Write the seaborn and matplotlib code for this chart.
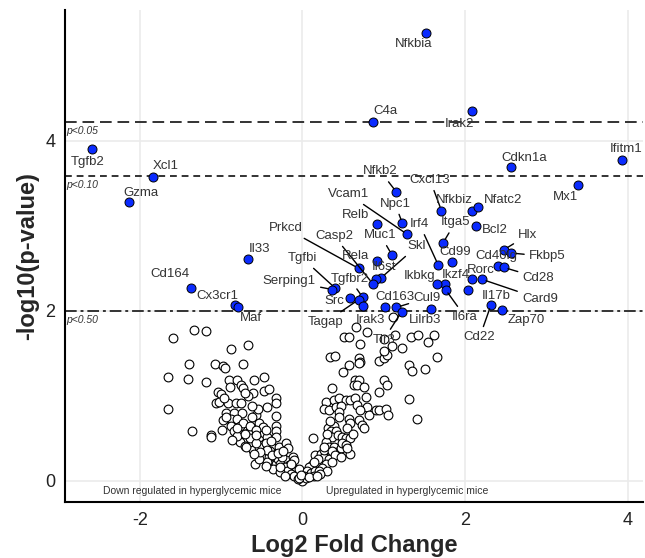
import matplotlib
matplotlib.use("Agg")
import matplotlib.pyplot as plt
import seaborn as sns
import pandas as pd

# genes above the p<0.50 line (blue, labelled)
genes = ["Nfkbia", "C4a", "Irak2", "Cdkn1a", "Ifitm1", "Mx1", "Nfkb2", "Cxcl13",
         "Nfkbiz", "Nfatc2", "Vcam1", "Npc1", "Relb", "Irf4", "Itga5", "Bcl2",
         "Hlx", "Fkbp5", "Cd40lg", "Cd28", "Rorc", "Card9", "Il17b", "Cd22",
         "Zap70", "Ikzf4", "Il6ra", "Ikbkg", "Cd99", "Skl", "Il6st", "Muc1",
         "Casp2", "Rela", "Prkcd", "Tgfbi", "Serping1", "Tgfbr2", "Src", "Tagap",
         "Irak3", "Cd163", "Cul9", "Lilrb3", "Tlr3", "Il33", "Cd164", "Cx3cr1",
         "Maf", "Tgfb2", "Xcl1", "Gzma"]
sig_fc = [1.52, 0.865, 2.08, 2.57, 3.93, 3.39, 1.155, 1.71,
          2.08, 2.16, 1.29, 1.23, 0.92, 1.67, 1.73, 2.13,
          2.48, 2.57, 2.40, 2.48, 2.08, 2.21, 2.04, 2.32,
          2.45, 1.755, 1.76, 1.65, 1.84, 0.97, 0.905, 1.10,
          0.865, 0.92, 0.69, 0.40, 0.37, 0.74, 0.58, 0.69,
          0.74, 1.01, 1.155, 1.58, 1.22, -0.67, -1.37, -0.83,
          -0.79, -2.59, -1.84, -2.13]
sig_p = [5.27, 4.22, 4.35, 3.69, 3.78, 3.48, 3.40, 3.18,
         3.17, 3.22, 2.90, 3.03, 3.02, 2.54, 2.80, 3.00,
         2.72, 2.68, 2.53, 2.51, 2.38, 2.37, 2.24, 2.07,
         2.01, 2.31, 2.25, 2.31, 2.57, 2.39, 2.37, 2.66,
         2.32, 2.59, 2.50, 2.27, 2.25, 2.16, 2.15, 2.13,
         2.06, 2.05, 2.04, 2.02, 1.99, 2.61, 2.27, 2.07,
         2.05, 3.90, 3.58, 3.28]

# all other genes (open circles)
ns_fc = [-1.33, -1.19, -1.59, -0.88, -0.67, -1.40, -1.07, -0.98, -0.95, -0.73,
         -1.65, -1.41, -1.19, -0.90, -0.80, -0.75, -0.60, -0.47, -1.04, -1.00,
         -0.89, -0.73, -0.61, -0.47, -0.41, -1.06, -1.02, -0.92, -0.82, -0.75,
         -0.67, -0.71, -0.33, -0.33, -0.43, -1.65, -0.94, -0.84, -0.74, -0.57,
         -0.33, -0.98, -0.86, -0.88, -0.80, -1.36, -1.12, -1.12, -0.99, -0.88,
         -0.77, -0.71, -0.77, -0.73, -0.62, -0.53, -0.61, -0.58, -0.53, -0.47,
         -0.43, -0.53, -0.49, -0.41, -0.33, -0.32, -0.32, -0.37, -0.29, -0.26,
         -0.20, -0.18, -0.20, -0.16, -0.12, -0.10, -0.12, -0.08, -0.06, -0.02,
         0.00, -0.03, -0.16, -0.24, -0.33, -0.43, -0.53, -0.69, -0.67, -0.94,
         -0.65, -0.57, -0.45, -0.40, -0.35, -0.30, -0.27, -0.22, -0.19, -0.14,
         -0.10, -0.06, -0.36, -0.28, -0.22, -0.45, -0.25, -0.48, -0.55, -0.62,
         -0.84, -0.80, -0.97, -0.80, -0.71, -0.65, -0.57, -0.57, -0.45, -0.43,
         -0.38, -0.30, -0.24, -0.28, -0.14, -0.04, -0.52, -0.39, -0.60, -0.86,
         0.66, 0.80, 0.51, 0.57, 0.71, 1.14, 1.12, 1.00, 1.02, 1.10,
         1.22, 1.34, 1.42, 1.62, 1.54, 1.65, 0.34, 0.40, 0.69, 0.71,
         0.69, 0.57, 0.50, 0.94, 1.00, 1.04, 1.00, 1.31, 1.35, 1.51,
         0.65, 0.69, 0.63, 0.67, 0.37, 0.76, 0.78, 0.94, 1.00, 1.04,
         1.31, 0.29, 0.39, 0.45, 0.53, 0.59, 0.65, 0.27, 0.33, 0.41,
         0.47, 0.45, 0.67, 0.80, 0.82, 0.71, 0.90, 0.94, 1.03, 1.05,
         1.41, 0.57, 0.59, 0.55, 0.69, 0.73, 0.76, 0.32, 0.39, 0.35,
         0.41, 0.37, 0.44, 0.49, 0.53, 0.58, 0.13, 0.29, 0.33, 0.39,
         0.43, 0.47, 0.59, 0.16, 0.23, 0.27, 0.33, 0.20, 0.29, 0.12,
         0.24, 0.08, 0.06, 0.10, 0.16, 0.02, 0.04, -0.04, -0.02, 0.49,
         0.53, 0.26, 0.19, 0.14, 0.20, 0.36, 0.34, 0.45, 0.62, 0.30,
         0.26, 0.40, 0.36, 0.30, 0.22, 0.14, 0.08, 0.48, 0.55, 0.18]
ns_p = [1.78, 1.76, 1.68, 1.55, 1.60, 1.37, 1.37, 1.35, 1.33, 1.37,
        1.22, 1.20, 1.16, 1.18, 1.18, 1.13, 1.19, 1.22, 1.05, 1.02,
        1.10, 1.09, 1.03, 1.06, 1.08, 0.91, 0.93, 0.92, 0.92, 0.92,
        1.00, 1.03, 0.97, 0.91, 0.87, 0.85, 0.80, 0.80, 0.80, 0.77,
        0.76, 0.71, 0.69, 0.73, 0.73, 0.58, 0.54, 0.51, 0.60, 0.64,
        0.46, 0.41, 0.64, 0.68, 0.75, 0.68, 0.36, 0.20, 0.52, 0.56,
        0.51, 0.40, 0.30, 0.28, 0.64, 0.58, 0.52, 0.40, 0.40, 0.32,
        0.44, 0.38, 0.24, 0.18, 0.28, 0.24, 0.15, 0.11, 0.06, 0.03,
        0.00, 0.09, 0.09, 0.13, 0.20, 0.22, 0.26, 0.40, 0.56, 0.75,
        0.50, 0.45, 0.45, 0.35, 0.30, 0.26, 0.20, 0.16, 0.12, 0.08,
        0.05, 0.02, 0.14, 0.10, 0.06, 0.17, 0.28, 0.63, 0.85, 0.88,
        0.58, 0.53, 0.97, 0.62, 0.55, 0.65, 0.60, 0.54, 0.60, 0.36,
        0.30, 0.33, 0.35, 0.16, 0.20, 0.14, 0.34, 0.47, 0.31, 0.48,
        1.81, 1.75, 1.69, 1.69, 1.61, 1.71, 1.93, 1.67, 1.50, 1.58,
        1.56, 1.69, 1.71, 1.71, 1.63, 1.46, 1.46, 1.47, 1.44, 1.40,
        1.38, 1.36, 1.28, 1.41, 1.44, 1.48, 1.53, 1.36, 1.29, 1.31,
        1.18, 1.19, 1.13, 1.13, 1.09, 1.10, 0.99, 1.05, 1.18, 1.13,
        0.96, 0.93, 0.95, 0.97, 0.95, 0.95, 0.97, 0.85, 0.83, 0.87,
        0.88, 0.81, 0.89, 0.87, 0.77, 0.83, 0.83, 0.83, 0.85, 0.77,
        0.73, 0.73, 0.68, 0.62, 0.71, 0.66, 0.62, 0.62, 0.64, 0.58,
        0.58, 0.52, 0.54, 0.52, 0.50, 0.50, 0.50, 0.46, 0.40, 0.40,
        0.34, 0.38, 0.32, 0.30, 0.32, 0.28, 0.25, 0.20, 0.20, 0.18,
        0.15, 0.16, 0.11, 0.09, 0.11, 0.05, 0.03, 0.03, 0.07, 0.44,
        0.42, 0.36, 0.25, 0.22, 0.12, 0.35, 0.70, 0.75, 0.55, 0.55,
        0.40, 0.30, 0.22, 0.12, 0.08, 0.05, 0.04, 0.28, 0.38, 0.06]

# threshold lines on the -log10 scale
cut_names = ["p<0.05", "p<0.10", "p<0.50"]
cut_vals = [4.22, 3.59, 2.0]
cut_styles = [(0, (6, 3)), (0, (3.5, 2.5)), (0, (6, 2, 1.5, 2))]

# where each gene label sits (data units) and whether a leader line is drawn
lab_xy = {
    "Nfkbia": (1.37, 5.14, 0), "C4a": (1.02, 4.35, 0), "Irak2": (1.93, 4.20, 0),
    "Cdkn1a": (2.73, 3.80, 0), "Ifitm1": (3.98, 3.91, 0), "Mx1": (3.24, 3.34, 0),
    "Nfkb2": (0.96, 3.64, 1), "Cxcl13": (1.57, 3.54, 1), "Nfkbiz": (1.87, 3.30, 0),
    "Nfatc2": (2.47, 3.31, 0), "Vcam1": (0.57, 3.37, 1), "Npc1": (1.14, 3.26, 1),
    "Relb": (0.65, 3.13, 0), "Irf4": (1.44, 3.02, 1), "Itga5": (1.88, 3.04, 1),
    "Bcl2": (2.37, 2.95, 0), "Hlx": (2.77, 2.89, 1), "Fkbp5": (3.01, 2.64, 1),
    "Cd40lg": (2.39, 2.64, 0), "Cd28": (2.90, 2.39, 1), "Rorc": (2.20, 2.48, 0),
    "Card9": (2.92, 2.14, 1), "Il17b": (2.38, 2.18, 0), "Cd22": (2.18, 1.69, 1),
    "Zap70": (2.75, 1.89, 0), "Ikzf4": (1.89, 2.42, 0), "Il6ra": (2.00, 1.93, 1),
    "Ikbkg": (1.44, 2.41, 0), "Cd99": (1.88, 2.69, 0), "Skl": (1.41, 2.76, 1),
    "Il6st": (1.00, 2.51, 0), "Muc1": (0.96, 2.89, 1), "Casp2": (0.39, 2.88, 1),
    "Rela": (0.65, 2.64, 0), "Prkcd": (-0.20, 2.97, 1), "Tgfbi": (0.00, 2.62, 1),
    "Serping1": (-0.16, 2.35, 1), "Tgfbr2": (0.58, 2.38, 1), "Src": (0.39, 2.11, 0),
    "Tagap": (0.29, 1.87, 1), "Irak3": (0.84, 1.89, 0), "Cd163": (1.14, 2.16, 0),
    "Cul9": (1.53, 2.15, 1), "Lilrb3": (1.51, 1.89, 0), "Tlr3": (1.00, 1.66, 1),
    "Il33": (-0.53, 2.73, 0), "Cd164": (-1.63, 2.43, 0), "Cx3cr1": (-1.04, 2.18, 0),
    "Maf": (-0.63, 1.91, 0), "Tgfb2": (-2.64, 3.75, 0), "Xcl1": (-1.68, 3.71, 0),
    "Gzma": (-1.99, 3.39, 0),
}

ns_df = pd.DataFrame({"fc": ns_fc, "p": ns_p})
sig_df = pd.DataFrame({"gene": genes, "fc": sig_fc, "p": sig_p})

sns.set_style("whitegrid")
plt.rcParams["font.family"] = ["Liberation Sans", "DejaVu Sans"]
plt.rcParams["axes.unicode_minus"] = False

fig = plt.figure(figsize=(6.45, 5.58), dpi=100)
ax = fig.add_axes([0.1008, 0.1004, 0.8962, 0.8816])

sns.scatterplot(data=ns_df, x="fc", y="p", ax=ax, s=40, facecolor="white",
                edgecolor="black", linewidth=0.8, zorder=3, legend=False)
sns.scatterplot(data=sig_df, x="fc", y="p", ax=ax, s=42, color="#0a2bff",
                edgecolor="black", linewidth=0.7, zorder=4, legend=False)

for name, val, ls in zip(cut_names, cut_vals, cut_styles):
    ax.axhline(val, color="#333333", lw=1.4, linestyle=ls, zorder=2)
    ax.text(-2.9, val - 0.05, name, fontsize=7.5, style="italic", color="#333333",
            ha="left", va="top", zorder=5)

for g, x, y in zip(genes, sig_fc, sig_p):
    lx, ly, seg = lab_xy[g]
    if seg:
        ax.annotate(g, xy=(x, y), xytext=(lx, ly), fontsize=9.5, color="#333333",
                    ha="center", va="center", zorder=6,
                    arrowprops=dict(arrowstyle="-", color="black", lw=1.0,
                                    shrinkA=1, shrinkB=3))
    else:
        ax.text(lx, ly, g, fontsize=9.5, color="#333333", ha="center",
                va="center", zorder=6)

ax.text(-1.36, -0.12, "Down regulated in hyperglycemic mice", fontsize=7.5,
        color="#333333", ha="center", va="center")
ax.text(1.29, -0.12, "Upregulated in hyperglycemic mice", fontsize=7.5,
        color="#333333", ha="center", va="center")

ax.set_xlim(-2.92, 4.19)
ax.set_ylim(-0.25, 5.54)
ax.set_xticks([-2, 0, 2, 4])
ax.set_yticks([0, 2, 4])
ax.grid(True, color="#ebebeb", lw=1.2)
ax.set_axisbelow(True)
for side in ["top", "right"]:
    ax.spines[side].set_visible(False)
for side in ["left", "bottom"]:
    ax.spines[side].set_color("black")
    ax.spines[side].set_linewidth(1.5)
ax.tick_params(axis="both", length=4, width=1.2, color="black",
               labelsize=13, labelcolor="#222222", pad=3)
ax.set_xlabel("Log2 Fold Change", fontsize=17, fontweight="bold", labelpad=4)
ax.set_ylabel("-log10(p-value)", fontsize=17, fontweight="bold", labelpad=4)

plt.savefig("out.png", dpi=100)
